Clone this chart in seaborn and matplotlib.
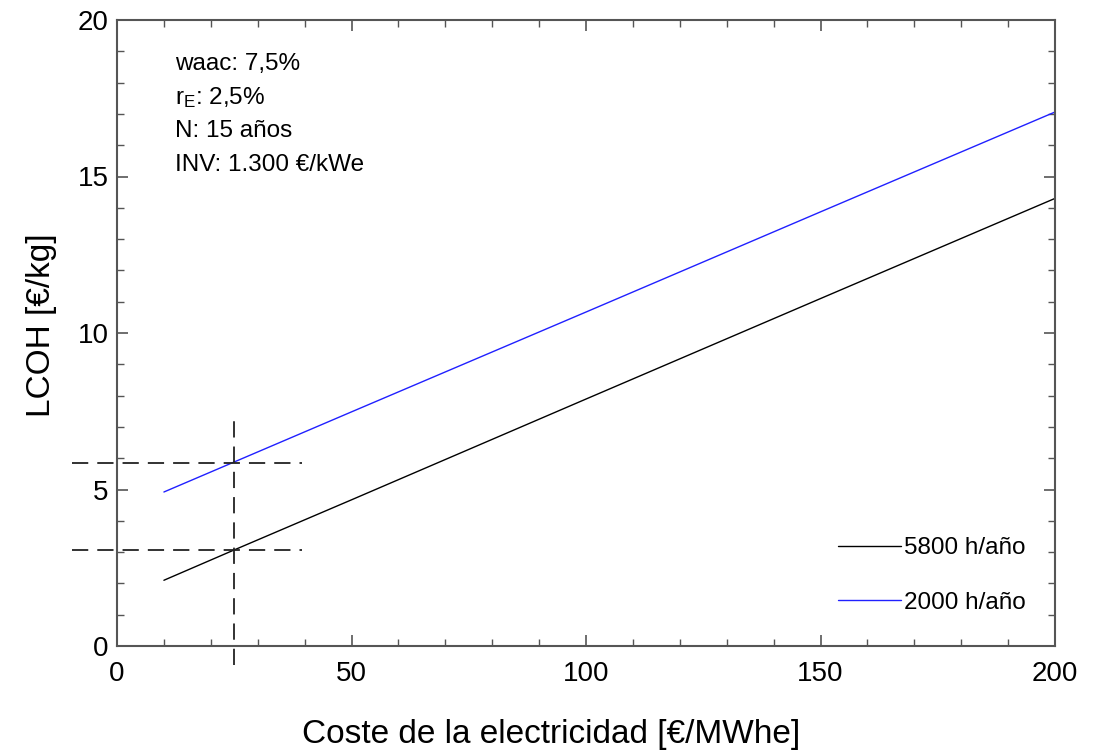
import matplotlib
matplotlib.use("Agg")
import matplotlib.pyplot as plt
import seaborn as sns
import pandas as pd
from matplotlib.ticker import MultipleLocator

# Data
coste = [10, 25, 50, 100, 150, 200]
lcoh_5800 = [2.10, 3.07, 4.67, 7.89, 11.10, 14.30]
lcoh_2000 = [4.92, 5.88, 7.48, 10.67, 13.87, 17.06]
series_labels = ["5800 h/año", "2000 h/año"]
ref_coste = 25
ref_5800 = 3.08
ref_2000 = 5.86
annot_lines = ["waac: 7,5%", r"r$_\mathrm{E}$: 2,5%", "N: 15 años", "INV: 1.300 €/kWe"]

sns.set_theme(style="ticks")
plt.rcParams['font.family'] = ['Liberation Sans', 'DejaVu Sans']
plt.rcParams['mathtext.fontset'] = 'custom'
plt.rcParams['mathtext.rm'] = 'Liberation Sans'
plt.rcParams['mathtext.it'] = 'Liberation Sans:italic'
plt.rcParams['text.color'] = 'black'
plt.rcParams['axes.labelcolor'] = 'black'

df = pd.DataFrame({
    "coste": coste * 2,
    "lcoh": lcoh_5800 + lcoh_2000,
    "serie": [series_labels[0]] * len(coste) + [series_labels[1]] * len(coste),
})

fig = plt.figure(figsize=(11, 7.5), dpi=100)
ax = fig.add_axes([117/1100, 104/750, (1055-117)/1100, (646-20)/750])

sns.lineplot(data=df, x="coste", y="lcoh", hue="serie",
             palette={series_labels[0]: "black", series_labels[1]: "#2020ff"},
             linewidth=1.0, ax=ax)

# Reference dashed lines
dash = dict(color="#222222", linewidth=1.3, dashes=(9, 5), clip_on=False)
ax.plot([-9.6, 39.5], [ref_2000, ref_2000], **dash)
ax.plot([-9.6, 39.5], [ref_5800, ref_5800], **dash)
ax.plot([ref_coste, ref_coste], [-0.6, 7.25], **dash)

ax.set_xlim(0, 200)
ax.set_ylim(0, 20)
ax.xaxis.set_major_locator(MultipleLocator(50))
ax.xaxis.set_minor_locator(MultipleLocator(10))
ax.yaxis.set_major_locator(MultipleLocator(5))
ax.yaxis.set_minor_locator(MultipleLocator(1))
ax.tick_params(which="both", direction="in", top=True, right=True,
               colors="#555555", labelcolor="black", labelsize=20)
ax.tick_params(which="major", length=8, width=1.2)
ax.tick_params(axis="x", which="major", pad=11)
ax.tick_params(axis="y", which="major", pad=6)
ax.tick_params(which="minor", length=5, width=1.0)
for s in ax.spines.values():
    s.set_color("#555555")
    s.set_linewidth(1.5)
    s.set_visible(True)

ax.set_xlabel("Coste de la electricidad [€/MWhe]", fontsize=24)
ax.set_ylabel("LCOH [€/kg]", fontsize=24)
ax.xaxis.set_label_coords((551 - 117) / 938, -(719 - 646) / 626)
ax.yaxis.set_label_coords(-(117 - 57) / 938, (646 - 325) / 626)

for i, t in enumerate(annot_lines):
    ax.text(12.4, 18.40 - i * 1.075, t, fontsize=17.5, va="baseline", ha="left")

leg = ax.legend(loc="upper left", frameon=False, fontsize=17.5,
                handlelength=2.6, handletextpad=0.1, labelspacing=1.35,
                borderpad=0, borderaxespad=0,
                bbox_to_anchor=((838 - 117) / 938, (646 - 537) / 626))
for h in leg.get_lines():
    h.set_linewidth(1.0)

fig.savefig("out.png", dpi=100)
